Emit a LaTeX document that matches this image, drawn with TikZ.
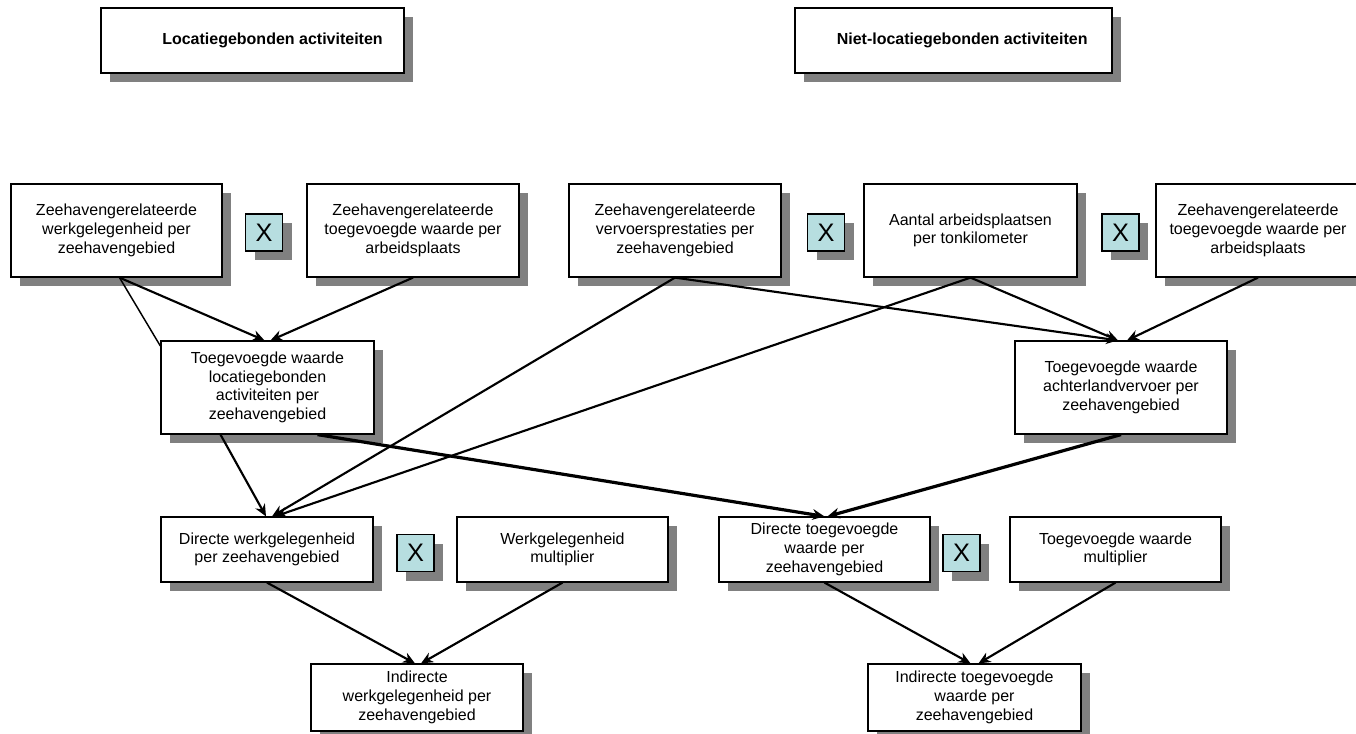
\documentclass[tikz,border=0pt]{standalone}
\usepackage{fontspec}
\setmainfont{Liberation Sans}
\usetikzlibrary{shadows,arrows.meta,calc}
\definecolor{xfill}{RGB}{183,222,224}
\definecolor{shad}{RGB}{128,128,128}
\begin{document}
\begin{tikzpicture}[x=0.75pt,y=-0.75pt,
  box/.style={draw=black, line width=0.9pt, fill=white, align=center, inner sep=0pt,
     font=\fontsize{12}{14}\selectfont,
     drop shadow={shadow xshift=6.75pt, shadow yshift=-6.75pt, fill=shad, opacity=1}},
  wh/.style 2 args={minimum width=#1*0.75pt, minimum height=#2*0.75pt},
  titlebox/.style={box, font=\fontsize{12}{14}\selectfont\bfseries},
  xbox/.style={box, fill=xfill, wh={37}{37}, font=\fontsize{19}{19}\selectfont},
  con/.style={line width=1.6pt, -{Stealth[length=9pt,width=8pt]}},
  thickcon/.style={line width=2.4pt, -{Stealth[length=9pt,width=8pt]}},
  thinline/.style={line width=1.1pt}
]
\fill[white] (0,0) rectangle (1356,733);
\useasboundingbox (0,0) rectangle (1356,733);

% titles
\node[titlebox, wh={303}{65}] (T1) at (252.5,40.5) {\hspace*{30pt}Locatiegebonden activiteiten};
\node[titlebox, wh={317}{65}] (T2) at (953.5,40.5) {\hspace*{13pt}Niet-locatiegebonden activiteiten};

% row 1
\node[box, wh={211}{93}] (A) at (116.5,230.5) {Zeehavengerelateerde\\werkgelegenheid per\\zeehavengebied};
\node[xbox] (X1) at (264,232.5) {X};
\node[box, wh={212}{93}] (B) at (413,230.5) {Zeehavengerelateerde\\toegevoegde waarde per\\arbeidsplaats};
\node[box, wh={212}{93}] (C) at (675,230.5) {Zeehavengerelateerde\\vervoersprestaties per\\zeehavengebied};
\node[xbox] (X2) at (826,232.5) {X};
\node[box, wh={213}{93}] (D) at (970.5,230.5) {Aantal arbeidsplaatsen\\per tonkilometer};
\node[xbox] (X3) at (1120.5,232.5) {X};
\node[box, wh={204}{93}] (E) at (1258,230.5) {Zeehavengerelateerde\\toegevoegde waarde per\\arbeidsplaats};

% row 2
\node[box, wh={213}{93}] (F) at (267.5,387.5) {Toegevoegde waarde\\locatiegebonden\\activiteiten per\\zeehavengebied};
\node[box, wh={212}{93}] (G) at (1121,387.5) {Toegevoegde waarde\\achterlandvervoer per\\zeehavengebied};

% row 3
\node[box, wh={212}{65}] (H) at (267,549.5) {Directe werkgelegenheid\\per zeehavengebied};
\node[xbox] (X4) at (415.5,553) {X};
\node[box, wh={211}{65}] (I) at (562.5,549.5) {Werkgelegenheid\\multiplier};
\node[box, wh={211}{65}] (J) at (824.5,549.5) {Directe toegevoegde\\waarde per\\zeehavengebied};
\node[xbox] (X5) at (961.5,553) {X};
\node[box, wh={211}{65}] (K) at (1115.5,549.5) {Toegevoegde waarde\\multiplier};

% row 4
\node[box, wh={212}{67}] (L) at (417,697.5) {Indirecte\\werkgelegenheid per\\zeehavengebied};
\node[box, wh={213}{67}] (M) at (974.5,697.5) {Indirecte toegevoegde\\waarde per\\zeehavengebied};

% connectors
\draw[con] ($(A.south)+(3,0)$) -- ($(F.north)+(-3,0)$);
\draw[thinline] ($(A.south)+(3,0)$) -- ($(F.north west)!0.06!(F.south west)$);
\draw[con] (B.south) -- ($(F.north)+(3,0)$);
\draw[con] (C.south) -- ($(H.north)+(5,0)$);
\draw[con] (C.south) -- ($(G.north)+(-3,0)$);
\draw[con] (D.south) -- ($(H.north)+(8,0)$);
\draw[con] (D.south) -- ($(G.north)+(-3,0)$);
\draw[con] (E.south) -- ($(G.north)+(6,0)$);
\draw[con] ($(F.south)+(-47,0)$) -- ($(H.north)+(-1,0)$);
\draw[thickcon] ($(F.south)+(50,0)$) -- (J.north);
\draw[thickcon] (G.south) -- ($(J.north)+(3,0)$);
\draw[con] (H.south) -- ($(L.north)+(-2,0)$);
\draw[con] (I.south) -- ($(L.north)+(4,0)$);
\draw[con] (J.south) -- ($(M.north)+(-4,0)$);
\draw[con] (K.south) -- ($(M.north)+(4,0)$);
\end{tikzpicture}
\end{document}
